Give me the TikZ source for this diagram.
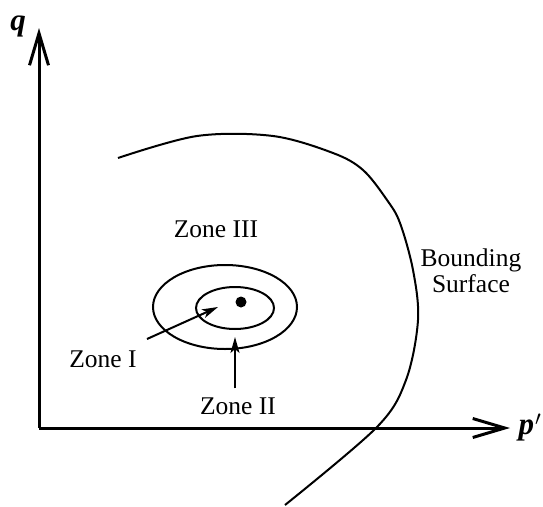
\documentclass[tikz,border=0pt]{standalone}
\usepackage{fontspec}
\setmainfont{Liberation Serif}
\usetikzlibrary{arrows.meta}
\tikzset{
	axis/.style={line width=3pt, -{Straight Barb[length=32pt,width=19pt,line width=3pt]}},
	pointer/.style={line width=2pt, -{Stealth[length=16pt,width=9pt,inset=4pt]}},
	label/.style={font=\fontsize{25.5}{28}\selectfont, inner sep=0pt},
	axlabel/.style={font=\fontsize{31}{34}\selectfont\bfseries\itshape, inner sep=0pt}
}
\begin{document}
\begin{tikzpicture}[x=1pt,y=-1pt]
\useasboundingbox (0,0) rectangle (543,506);
% Axes
\coordinate (O) at (39,428);
\coordinate (qtip) at (39,28);
\coordinate (ptip) at (510,428);
\draw[axis] (O) -- (qtip);
\draw[axis] (O) -- (ptip);
\node[axlabel] (q) at (18,26) {q};
\node[axlabel] (p) at (530,428) {p\kern1pt$'$};
% Bounding surface
\draw[line width=2pt] plot[smooth, tension=0.55] coordinates {(118,158) (197,136) (273,136) (333,153) (363,170) (387,200) (400,223) (413,270) (418,320) (406,380) (377,427) (285,505)};
\node[label, align=center] (bound) at (471,271) {Bounding\\[-2pt]Surface};
% Zones
\draw[line width=2pt] (225,307) ellipse [x radius=72pt, y radius=42pt];
\draw[line width=2pt] (235,308) ellipse [x radius=39pt, y radius=21pt];
\fill (241,302) circle (5.5pt);
\node[label] (zIII) at (216,229) {Zone III};
\node[label] (zI) at (103,359) {Zone I};
\node[label] (zII) at (238,406) {Zone II};
\coordinate (zItail) at (147,339);
\coordinate (zItip) at (218,307);
\coordinate (zIItip) at (235,337);
\draw[pointer] (zItail) -- (zItip);
\draw[pointer] (zII.north -| zIItip) ++(0,-9) -- (zIItip);
\end{tikzpicture}
\end{document}
